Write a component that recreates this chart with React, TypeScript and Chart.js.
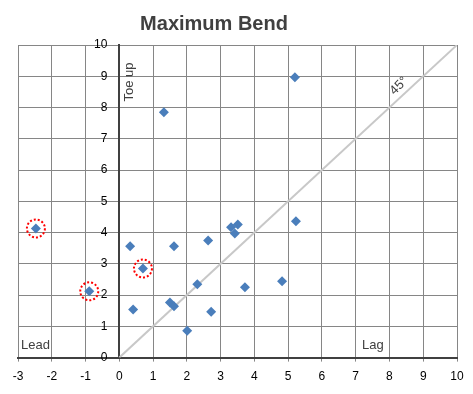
import React, { useEffect, useRef } from "react";
import { Chart, registerables } from "chart.js";

Chart.register(...registerables);

const xValues = [5.2, 1.32, -2.47, 0.32, 1.62, 2.63, 3.31, 3.51, 3.42, 5.23, 0.7, -0.89, 0.41, 1.5, 1.62, 2.01, 2.31, 2.72, 3.72, 4.82];
const yValues = [8.97, 7.85, 4.13, 3.56, 3.56, 3.75, 4.17, 4.26, 3.97, 4.36, 2.85, 2.12, 1.54, 1.76, 1.64, 0.86, 2.35, 1.47, 2.25, 2.44];
const circledIdx = [2, 10, 11];
const refLineX = [0, 10];
const refLineY = [0, 10];
const titleText = "Maximum Bend";
const FONT = "'Liberation Sans', Arial, sans-serif";

export default function App() {
  const ref = useRef<HTMLCanvasElement | null>(null);
  useEffect(() => {
    document.body.style.margin = "0";
    const canvas = ref.current!;
    const annot = {
      id: "annot",
      afterDraw(chart: any) {
        const ctx = chart.ctx;
        const xs = chart.scales.x;
        const ys = chart.scales.y;
        ctx.save();
        // y tick labels beside the x=0 axis
        const x0 = xs.getPixelForValue(0);
        ctx.fillStyle = "#000";
        ctx.font = `12px ${FONT}`;
        ctx.textAlign = "right";
        ctx.textBaseline = "middle";
        ys.ticks.forEach((t: any) => {
          ctx.fillText(String(t.value), x0 - 12, ys.getPixelForValue(t.value));
        });
        // circles
        ctx.strokeStyle = "#ff0000";
        ctx.lineWidth = 2;
        ctx.setLineDash([2, 2]);
        circledIdx.forEach((i) => {
          const px = xs.getPixelForValue(xValues[i]);
          const py = ys.getPixelForValue(yValues[i]);
          ctx.beginPath();
          ctx.arc(px, py, 9, 0, Math.PI * 2);
          ctx.stroke();
        });
        ctx.setLineDash([]);
        // title
        ctx.fillStyle = "#404040";
        ctx.font = `bold 20px ${FONT}`;
        ctx.textAlign = "center";
        ctx.textBaseline = "alphabetic";
        ctx.fillText(titleText, 214, 30);
        // texts
        ctx.font = `13px ${FONT}`;
        ctx.textAlign = "left";
        ctx.fillText("Lead", 21, 349);
        ctx.fillText("Lag", 362, 349);
        ctx.save();
        ctx.translate(x0 + 10, 82);
        ctx.rotate(-Math.PI / 2);
        ctx.textAlign = "center";
        ctx.textBaseline = "middle";
        ctx.fillText("Toe up", 0, 0);
        ctx.restore();
        ctx.save();
        ctx.translate(399, 86);
        ctx.rotate(-Math.PI / 4);
        ctx.textAlign = "center";
        ctx.textBaseline = "middle";
        ctx.fillText("45°", 0, 0);
        ctx.restore();
        ctx.restore();
      },
    };
    const chart = new Chart(canvas, {
      type: "scatter",
      data: {
        datasets: [
          {
            data: refLineX.map((x, i) => ({ x, y: refLineY[i] })),
            showLine: true,
            borderColor: "#c8c8c8",
            borderWidth: 2,
            pointRadius: 0,
            order: 2,
          },
          {
            data: xValues.map((x, i) => ({ x, y: yValues[i] })),
            pointStyle: "rectRot",
            pointRadius: 5,
            backgroundColor: "#4a7ebb",
            borderColor: "#4a7ebb",
            borderWidth: 0,
            order: 1,
          },
        ],
      },
      options: {
        animation: false,
        responsive: false,
        events: [],
        layout: { padding: { left: 18, right: 16, top: 45, bottom: 2 } },
        plugins: { legend: { display: false }, title: { display: false }, tooltip: { enabled: false } },
        scales: {
          x: {
            type: "linear",
            min: -3,
            max: 10,
            ticks: { stepSize: 1, color: "#000", font: { family: FONT, size: 12 }, padding: 8 },
            grid: { color: "#868686", lineWidth: 1, tickLength: 4, drawTicks: true },
            border: { color: "#404040", width: 2 },
          },
          y: {
            type: "linear",
            min: 0,
            max: 10,
            position: { x: 0 } as any,
            ticks: { stepSize: 1, display: false },
            grid: { color: "#868686", lineWidth: 1, drawTicks: false },
            border: { color: "#404040", width: 2 },
          },
        },
      },
      plugins: [annot],
    });
    return () => chart.destroy();
  }, []);
  return (
    <div style={{ width: 473, height: 394, background: "#fff" }}>
      <canvas ref={ref} width={473} height={394} style={{ display: "block" }} />
    </div>
  );
}
